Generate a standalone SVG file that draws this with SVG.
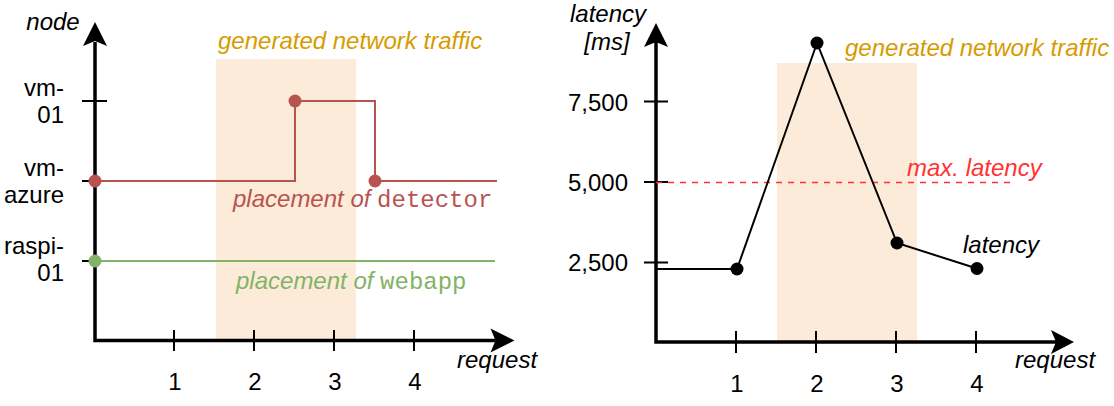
<svg xmlns="http://www.w3.org/2000/svg" width="1114" height="406" viewBox="0 0 1114 406">
<style>
text{font-family:"Liberation Sans",Arial,Helvetica,sans-serif;font-size:24px;fill:#000}
.it{font-style:italic}
.mono{font-family:"Liberation Mono","Courier New",monospace;font-style:normal}
.traffic{fill:#D79B00;font-style:italic}
.shade{fill:#FDEBD9;stroke:none}
.axis{fill:none;stroke:#000;stroke-width:3.5}
.tick{stroke:#000;stroke-width:2;fill:none}
.red{fill:none;stroke:#B85450;stroke-width:2}
.green{fill:none;stroke:#82B366;stroke-width:2}
.lat{fill:none;stroke:#000;stroke-width:2}
.dash{fill:none;stroke:#FF3333;stroke-width:1.5;stroke-dasharray:6 6}
.ah{fill:#000;stroke:none}
</style>
<g id="left-chart">
  <g id="left-traffic">
    <rect class="shade" x="216" y="59" width="140" height="281"/>
    <text class="traffic" x="218" y="49">generated network traffic</text>
  </g>
  <g id="left-axes">
    <path class="axis" d="M95 42 V340.5 H496"/>
    <polygon class="ah" points="95,22 83,46 95,41 107,46"/>
    <polygon class="ah" points="514.5,340.5 490.5,328.5 495.5,340.5 490.5,352.5"/>
    <path class="tick" d="M174 330 V351 M254 330 V351 M334 330 V351 M414 330 V351 M82 101 H107 M82 181 H107 M82 261 H107"/>
    <text class="it" x="53" y="30" text-anchor="middle">node</text>
    <text class="it" x="457" y="368">request</text>
    <g text-anchor="middle">
      <text x="175" y="389.5">1</text>
      <text x="255" y="389.5">2</text>
      <text x="335" y="389.5">3</text>
      <text x="415" y="389.5">4</text>
    </g>
    <g text-anchor="end">
      <text x="64" y="96">vm-</text>
      <text x="64" y="123">01</text>
      <text x="64" y="176">vm-</text>
      <text x="64" y="203">azure</text>
      <text x="64" y="254">raspi-</text>
      <text x="64" y="281">01</text>
    </g>
  </g>
  <g id="detector-placement">
    <path class="red" d="M95 181 H295 V101 H375 V181 H497"/>
    <circle cx="95" cy="181" r="6.5" fill="#B85450"/>
    <circle cx="295" cy="101" r="6.5" fill="#B85450"/>
    <circle cx="375" cy="181" r="6.5" fill="#B85450"/>
    <text x="233" y="207" fill="#B85450" style="fill:#B85450"><tspan class="it">placement of </tspan><tspan class="mono">detector</tspan></text>
  </g>
  <g id="webapp-placement">
    <path class="green" d="M95 261 H495"/>
    <circle cx="95" cy="261" r="6.5" fill="#82B366"/>
    <text x="236" y="289" style="fill:#82B366"><tspan class="it">placement of </tspan><tspan class="mono">webapp</tspan></text>
  </g>
</g>
<g id="right-chart">
  <g id="right-traffic">
    <rect class="shade" x="777" y="63" width="140" height="279"/>
    <text class="traffic" x="845" y="56">generated network traffic</text>
  </g>
  <g id="right-axes">
    <path class="axis" d="M656 42 V342 H1056"/>
    <polygon class="ah" points="656,23 644,47 656,42 668,47"/>
    <polygon class="ah" points="1074,342 1051,330 1056,342 1051,354"/>
    <path class="tick" d="M736 331 V353 M816 331 V353 M896 331 V353 M976 331 V353 M644 101.5 H668 M644 182 H668 M644 262.5 H668"/>
    <text class="it" x="608" y="22" text-anchor="middle">latency</text>
    <text class="it" x="607" y="50" text-anchor="middle">[ms]</text>
    <text class="it" x="1015" y="368">request</text>
    <g text-anchor="middle">
      <text x="737" y="391.5">1</text>
      <text x="817" y="391.5">2</text>
      <text x="897" y="391.5">3</text>
      <text x="977" y="391.5">4</text>
    </g>
    <g text-anchor="end">
      <text x="628" y="110.5">7,500</text>
      <text x="628" y="190.5">5,000</text>
      <text x="628" y="271">2,500</text>
    </g>
  </g>
  <g id="max-latency">
    <path class="dash" d="M656 182.5 H1010"/>
    <text class="it" x="907" y="176" style="fill:#FF3333">max. latency</text>
  </g>
  <g id="latency-series">
    <path class="lat" d="M656 269 H737 L817 43 L897 243 L977 268.5"/>
    <circle cx="737" cy="269" r="6.5"/>
    <circle cx="817" cy="43" r="6.5"/>
    <circle cx="897" cy="243" r="6.5"/>
    <circle cx="977" cy="268.5" r="6.5"/>
    <text class="it" x="963" y="253">latency</text>
  </g>
</g>
</svg>
